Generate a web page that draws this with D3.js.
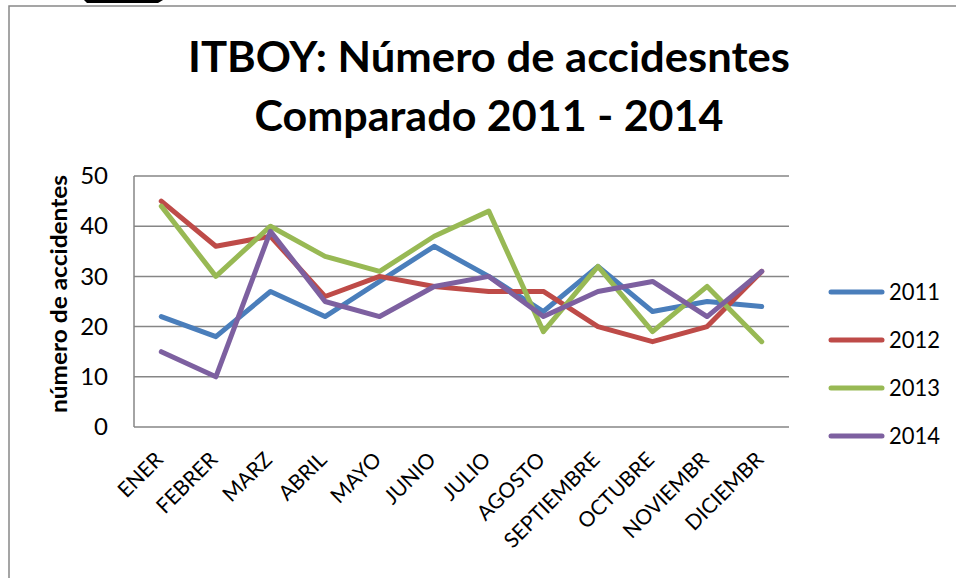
<!DOCTYPE html>
<html><head><meta charset="utf-8">
<script src="https://cdn.jsdelivr.net/npm/d3@7"></script>
<style>body{margin:0;background:#fff;}svg{display:block;}</style>
</head><body>
<svg id="c" width="956" height="578"></svg>
<script>
const months = ["ENER","FEBRER","MARZ","ABRIL","MAYO","JUNIO","JULIO","AGOSTO","SEPTIEMBRE","OCTUBRE","NOVIEMBR","DICIEMBR"];
const years = ["2011","2012","2013","2014"];
const v2011 = [22,18,27,22,29,36,30,23,32,23,25,24];
const v2012 = [45,36,38,26,30,28,27,27,20,17,20,31];
const v2013 = [44,30,40,34,31,38,43,19,32,19,28,17];
const v2014 = [15,10,39,25,22,28,30,22,27,29,22,31];
const yTicks = [0,10,20,30,40,50];
const colors = ["#4A7EBB","#BE4B48","#98B954","#7D60A0"];
const seriesVals = [v2011,v2012,v2013,v2014];

const svg = d3.select("#c");
const font = "Lato, 'Open Sans', sans-serif";

// outer frame
svg.append("rect").attr("x",9).attr("y",6).attr("width",1000).attr("height",1000)
  .attr("fill","none").attr("stroke","#888").attr("stroke-width",1.5);
svg.append("path").attr("d","M84,0 L163,0 L158,3 L87,3 Z").attr("fill","#000");

const x = d3.scaleBand().domain(months).range([134,789]);
const y = d3.scaleLinear().domain([0,50]).range([427,176]);

// gridlines
svg.append("g").selectAll("line").data(yTicks).join("line")
  .attr("x1",134).attr("x2",789).attr("y1",d=>y(d)).attr("y2",d=>y(d))
  .attr("stroke","#868686").attr("stroke-width",1.5);
svg.append("line").attr("x1",134).attr("x2",134).attr("y1",176).attr("y2",427)
  .attr("stroke","#868686").attr("stroke-width",1.5);

// y axis labels
const yAx = svg.append("g").attr("transform","translate(134,0)")
  .call(d3.axisLeft(y).tickValues(yTicks).tickSize(0).tickPadding(26));
yAx.select(".domain").remove();
yAx.selectAll("text").attr("font-family",font).attr("font-size",24).attr("fill","#000");

// x axis labels
const xAx = svg.append("g").attr("transform","translate(0,427)")
  .call(d3.axisBottom(x).tickSize(0));
xAx.select(".domain").remove();
xAx.selectAll("text").attr("font-family",font).attr("font-size",21).attr("fill","#000")
  .attr("text-anchor","end").attr("dy",null).attr("y",0)
  .attr("transform","translate(3,34) rotate(-45)");

// lines
const line = d3.line().x((d,i)=>x(months[i])+x.bandwidth()/2).y(d=>y(d));
svg.append("g").selectAll("path").data(seriesVals).join("path")
  .attr("d",line).attr("fill","none").attr("stroke",(d,i)=>colors[i])
  .attr("stroke-width",5).attr("stroke-linejoin","round").attr("stroke-linecap","round");

// title
const title = svg.append("text").attr("font-family",font).attr("font-weight","bold")
  .attr("font-size",42).attr("text-anchor","middle").attr("fill","#000");
title.append("tspan").attr("x",489).attr("y",72).attr("textLength",602).attr("lengthAdjust","spacingAndGlyphs").text("ITBOY: Número de accidesntes");
title.append("tspan").attr("x",489).attr("y",131).attr("textLength",469).attr("lengthAdjust","spacingAndGlyphs").text("Comparado 2011 - 2014");

// y axis title
svg.append("text").attr("transform","translate(67,294) rotate(-90)")
  .attr("font-family",font).attr("font-weight","bold").attr("font-size",22)
  .attr("text-anchor","middle").attr("textLength",238).attr("lengthAdjust","spacingAndGlyphs")
  .text("número de accidentes");

// legend
const lg = svg.append("g").selectAll("g").data(years).join("g")
  .attr("transform",(d,i)=>`translate(829,${292+i*48})`);
lg.append("line").attr("x1",2).attr("x2",53).attr("stroke",(d,i)=>colors[i])
  .attr("stroke-width",5).attr("stroke-linecap","round");
lg.append("text").attr("x",60).attr("dy","0.35em").attr("font-family",font)
  .attr("font-size",24).attr("textLength",51).attr("lengthAdjust","spacingAndGlyphs").text(d=>d);
</script>
</body></html>
